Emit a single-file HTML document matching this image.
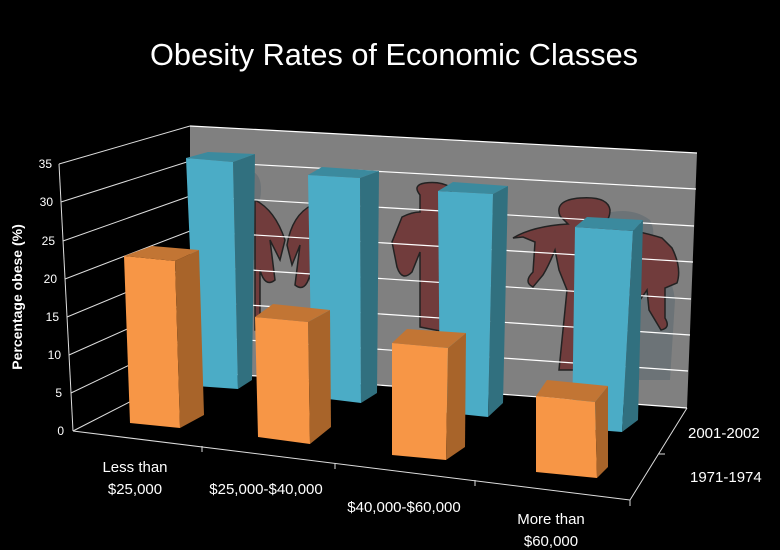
<!DOCTYPE html>
<html><head><meta charset="utf-8"><style>
html,body{margin:0;padding:0;background:#000;}
svg{display:block;}
text{font-family:"Liberation Sans",sans-serif;fill:#fff;}
</style></head><body>
<svg width="780" height="550" viewBox="0 0 780 550" xmlns="http://www.w3.org/2000/svg">
<rect width="780" height="550" fill="#000"/>
<text x="394" y="65" font-size="31" text-anchor="middle" textLength="488" lengthAdjust="spacingAndGlyphs">Obesity Rates of Economic Classes</text>

<polygon points="190,126 697,153 687,408 190,371" fill="#808080"/>
<g fill="#5f6a72" opacity="0.6">
<path d="M600,215 q30,-10 50,5 q10,20 -10,30 q30,10 35,50 l-5,80 l-40,0 z"/>
<path d="M445,200 q25,10 20,40 l0,60 l-15,0 z"/>
<path d="M245,170 q20,0 15,30 l-5,60 l-15,0 z"/>
</g>
<g fill="#713c3c" stroke="#222" stroke-width="1.5">
<path d="M513,238 q20,-12 55,-14 l-8,-8 q-6,-16 20,-18 q28,-2 30,12 q0,10 -8,16 q35,4 60,12 l10,10 q10,20 5,35 l-12,5 l0,30 q6,10 -4,12 l-12,-20 l-2,-20 q-20,30 -40,40 l-8,40 l-40,0 l8,-80 l-8,-20 l-4,-20 q-6,15 -12,25 l-10,12 q-10,-5 0,-15 l2,-30 l-12,-5 z"/>
<path d="M420,195 q-8,-10 5,-12 q15,-2 25,4 l5,25 l-10,120 l-25,-5 l0,-75 l-8,20 q-10,10 -15,-5 l-5,-25 l10,-25 q10,-5 18,-5 z"/>
<path d="M255,200 q20,10 30,40 l-5,20 l-10,-20 l5,40 q-10,8 -15,-10 l0,60 l-5,0 z"/>
<path d="M312,205 q-20,10 -25,40 l5,20 l8,-20 l-5,40 q10,8 15,-10 l2,20 z"/>
</g>
<g stroke="#fff" stroke-width="1.2">
<line x1="190" y1="126" x2="697" y2="153"/>
<line x1="190" y1="161" x2="696" y2="189"/>
<line x1="190" y1="196" x2="694" y2="226"/>
<line x1="190" y1="231" x2="693" y2="262"/>
<line x1="190" y1="266" x2="691" y2="299"/>
<line x1="190" y1="301" x2="690" y2="335"/>
<line x1="190" y1="336" x2="688" y2="371"/>
<line x1="190" y1="371" x2="687" y2="408"/>
</g>
<g stroke="#ddd" stroke-width="1">
<line x1="59" y1="164" x2="190" y2="126"/>
<line x1="61" y1="202" x2="190" y2="161"/>
<line x1="63" y1="241" x2="190" y2="196"/>
<line x1="65" y1="279" x2="190" y2="231"/>
<line x1="67" y1="317" x2="190" y2="266"/>
<line x1="69" y1="355" x2="190" y2="301"/>
<line x1="71" y1="393" x2="190" y2="336"/>
<line x1="73" y1="431" x2="190" y2="371"/>
<line x1="59" y1="164" x2="73" y2="431"/>
<line x1="73" y1="431" x2="630" y2="500"/>
<line x1="630" y1="500" x2="687" y2="408"/>
<line x1="202" y1="446" x2="202" y2="452"/>
<line x1="335" y1="463" x2="335" y2="469"/>
<line x1="475" y1="480" x2="475" y2="486"/>
<line x1="630" y1="500" x2="630" y2="506"/>
<line x1="659" y1="454" x2="665" y2="454"/>
</g>
<g font-size="12" text-anchor="end" fill="#ddd">
<text x="52" y="168">35</text><text x="53" y="206">30</text><text x="55" y="245">25</text><text x="57" y="283">20</text><text x="59" y="321">15</text><text x="61" y="359">10</text><text x="62" y="397">5</text><text x="64" y="435">0</text>
</g>
<text transform="translate(22,297) rotate(-90)" font-size="14" font-weight="bold" text-anchor="middle">Percentage obese (%)</text>

<polygon points="186,158 233,162 238,389 196,386" fill="#4bacc6"/>
<polygon points="233,162 255,154 252,380 238,389" fill="#31707f"/>
<polygon points="186,158 208,152 255,154 233,162" fill="#3b8a9e"/>
<polygon points="124,256 175,261 180,428 130,423" fill="#f79646"/>
<polygon points="175,261 199,250 204,415 180,428" fill="#a8642a"/>
<polygon points="124,256 152,246 199,250 175,261" fill="#c27534"/>
<polygon points="308,175 360,178 361,403 312,397" fill="#4bacc6"/>
<polygon points="360,178 379,171 377,393 361,403" fill="#31707f"/>
<polygon points="308,175 322,167 379,171 360,178" fill="#3b8a9e"/>
<polygon points="255,317 308,322 310,444 258,437" fill="#f79646"/>
<polygon points="308,322 330,310 331,427 310,444" fill="#a8642a"/>
<polygon points="255,317 273,304 330,310 308,322" fill="#c27534"/>
<polygon points="438,191 493,194 488,417 440,412" fill="#4bacc6"/>
<polygon points="493,194 508,186 503,403 488,417" fill="#31707f"/>
<polygon points="438,191 453,182 508,186 493,194" fill="#3b8a9e"/>
<polygon points="392,343 448,348 446,460 392,455" fill="#f79646"/>
<polygon points="448,348 466,333 465,447 446,460" fill="#a8642a"/>
<polygon points="392,343 407,329 466,333 448,348" fill="#c27534"/>
<polygon points="575,227 633,231 622,432 572,428" fill="#4bacc6"/>
<polygon points="633,231 643,220 638,420 622,432" fill="#31707f"/>
<polygon points="575,227 587,217 643,220 633,231" fill="#3b8a9e"/>
<polygon points="536,396 595,402 597,478 536,472" fill="#f79646"/>
<polygon points="595,402 608,386 608,467 597,478" fill="#a8642a"/>
<polygon points="536,396 547,380 608,386 595,402" fill="#c27534"/>

<g font-size="15" text-anchor="middle">
<text x="135" y="472">Less than</text>
<text x="135" y="494">$25,000</text>
<text x="266" y="494">$25,000-$40,000</text>
<text x="404" y="512">$40,000-$60,000</text>
<text x="551" y="524">More than</text>
<text x="551" y="546">$60,000</text>
</g>
<g font-size="15">
<text x="688" y="438">2001-2002</text>
<text x="690" y="482">1971-1974</text>
</g>
</svg>
</body></html>
